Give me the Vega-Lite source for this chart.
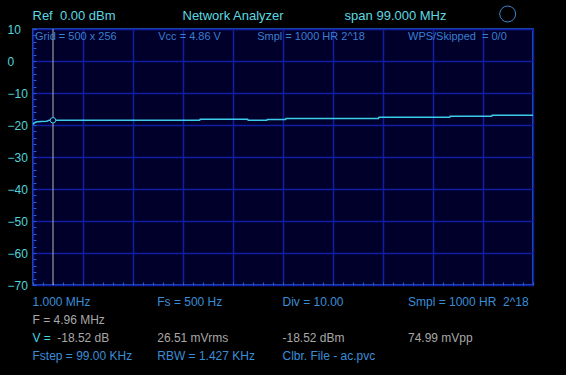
{
  "$schema": "https://vega.github.io/schema/vega-lite/v6.json",
  "width": 500,
  "height": 256,
  "autosize": {"type": "none"},
  "padding": {"left": 33, "top": 29, "right": 33, "bottom": 90},
  "background": "#000000",
  "config": {
    "view": {"fill": "#00002a", "stroke": "#2a66dc", "strokeWidth": 1.6},
    "font": "Liberation Sans"
  },
  "datasets": {
    "trace": [
      {"freq": 1.0, "level": -19.8},
      {"freq": 1.3, "level": -19.3},
      {"freq": 1.8, "level": -19.0},
      {"freq": 2.6, "level": -18.9},
      {"freq": 3.7, "level": -18.8},
      {"freq": 4.2, "level": -18.55},
      {"freq": 4.96, "level": -18.52},
      {"freq": 34.0, "level": -18.52},
      {"freq": 34.1, "level": -18.2},
      {"freq": 43.5, "level": -18.2},
      {"freq": 43.6, "level": -18.48},
      {"freq": 47.3, "level": -18.48},
      {"freq": 47.4, "level": -18.28},
      {"freq": 51.0, "level": -18.28},
      {"freq": 51.1, "level": -17.97},
      {"freq": 69.4, "level": -17.97},
      {"freq": 69.5, "level": -17.6},
      {"freq": 83.5, "level": -17.6},
      {"freq": 83.6, "level": -17.28},
      {"freq": 91.8, "level": -17.28},
      {"freq": 91.9, "level": -16.97},
      {"freq": 100, "level": -16.97}
    ],
    "cursor": [{"freq": 4.96, "level": -18.52}],
    "badge": [{"freq": 94.99, "level": 14.69}],
    "labels": [
      {"text": "Ref\u00a0 0.00 dBm", "freq": 0.9, "level": 14.06, "kind": "header"},
      {"text": "Network Analyzer", "freq": 30.6, "level": 14.06, "kind": "header"},
      {"text": "span 99.000 MHz", "freq": 62.7, "level": 14.06, "kind": "header"},
      {"text": "Grid = 500 x 256", "freq": 1.4, "level": 7.5, "kind": "inner"},
      {"text": "Vcc = 4.86 V", "freq": 25.8, "level": 7.5, "kind": "inner"},
      {"text": "Smpl = 1000 HR 2^18", "freq": 45.4, "level": 7.5, "kind": "inner"},
      {"text": "WPS/Skipped\u00a0 = 0/0", "freq": 75.25, "level": 7.5, "kind": "inner"},
      {"text": "1.000 MHz", "freq": 0.9, "level": -75.31, "kind": "blue"},
      {"text": "Fs = 500 Hz", "freq": 25.6, "level": -75.31, "kind": "blue"},
      {"text": "Div = 10.00", "freq": 50.4, "level": -75.31, "kind": "blue"},
      {"text": "Smpl = 1000 HR\u00a0 2^18", "freq": 75.25, "level": -75.31, "kind": "blue"},
      {"text": "F = 4.96 MHz", "freq": 0.9, "level": -80.94, "kind": "gray"},
      {"text": "V =", "freq": 0.9, "level": -86.56, "kind": "cyan"},
      {"text": "-18.52 dB", "freq": 5.8, "level": -86.56, "kind": "gray"},
      {"text": "26.51 mVrms", "freq": 25.6, "level": -86.56, "kind": "gray"},
      {"text": "-18.52 dBm", "freq": 50.4, "level": -86.56, "kind": "gray"},
      {"text": "74.99 mVpp", "freq": 75.25, "level": -86.56, "kind": "gray"},
      {"text": "Fstep = 99.00 KHz", "freq": 0.9, "level": -92.19, "kind": "blue"},
      {"text": "RBW = 1.427 KHz", "freq": 25.6, "level": -92.19, "kind": "blue"},
      {"text": "Clbr. File - ac.pvc", "freq": 50.4, "level": -92.19, "kind": "blue"}
    ]
  },
  "layer": [
    {
      "data": {"name": "trace"},
      "mark": {"type": "line", "color": "#3ccbe8", "strokeWidth": 1.5},
      "encoding": {
        "x": {
          "field": "freq", "type": "quantitative",
          "scale": {"domain": [1, 100], "nice": false, "zero": false},
          "axis": {
            "values": [1, 10.9, 20.8, 30.7, 40.6, 50.5, 60.4, 70.3, 80.2, 90.1, 100],
            "labels": false, "ticks": false, "domain": false, "title": null,
            "grid": true, "gridColor": "#101ea4", "gridWidth": 1.5, "gridOpacity": 1
          }
        },
        "y": {
          "field": "level", "type": "quantitative",
          "scale": {"domain": [-70, 10], "nice": false, "zero": false},
          "axis": {
            "values": [-70, -60, -50, -40, -30, -20, -10, 0, 10],
            "labelAlign": "left", "labelPadding": 26, "labelBaseline": "middle",
            "labelColor": "#50d4dc", "labelFontSize": 12, "labelFont": "Liberation Sans",
            "ticks": false, "domain": false, "title": null,
            "grid": true, "gridColor": "#101ea4", "gridWidth": 1.5, "gridOpacity": 1
          }
        }
      }
    },
    {
      "data": {"name": "cursor"},
      "mark": {"type": "rule", "color": "#b4b4b4", "strokeWidth": 1},
      "encoding": {
        "x": {
          "field": "freq", "type": "quantitative",
          "scale": {"domain": [1, 100], "nice": false, "zero": false},
          "axis": {
            "orient": "bottom",
            "values": [1, 2.98, 4.96, 6.94, 8.92, 10.9, 12.88, 14.86, 16.84, 18.82, 20.8, 22.78, 24.76, 26.74, 28.72, 30.7, 32.68, 34.66, 36.64, 38.62, 40.6, 42.58, 44.56, 46.54, 48.52, 50.5, 52.48, 54.46, 56.44, 58.42, 60.4, 62.38, 64.36, 66.34, 68.32, 70.3, 72.28, 74.26, 76.24, 78.22, 80.2, 82.18, 84.16, 86.14, 88.12, 90.1, 92.08, 94.06, 96.04, 98.02, 100],
            "labels": false, "grid": false, "domain": false, "title": null,
            "ticks": true, "tickSize": -3, "tickColor": "#2a5ad0", "tickWidth": 1
          }
        }
      }
    },
    {
      "data": {"name": "cursor"},
      "mark": {"type": "point", "shape": "circle", "filled": false, "fill": "#00002a", "fillOpacity": 1, "stroke": "#3ccbe8", "strokeWidth": 1, "size": 30, "opacity": 1},
      "encoding": {
        "x": {
          "field": "freq", "type": "quantitative",
          "scale": {"domain": [1, 100], "nice": false, "zero": false},
          "axis": null
        },
        "y": {
          "field": "level", "type": "quantitative",
          "scale": {"domain": [-70, 10], "nice": false, "zero": false},
          "axis": {
            "orient": "left",
            "values": [-70, -68, -66, -64, -62, -60, -58, -56, -54, -52, -50, -48, -46, -44, -42, -40, -38, -36, -34, -32, -30, -28, -26, -24, -22, -20, -18, -16, -14, -12, -10, -8, -6, -4, -2, 0, 2, 4, 6, 8, 10],
            "labels": false, "grid": false, "domain": false, "title": null,
            "ticks": true, "tickSize": -3, "tickColor": "#2a5ad0", "tickWidth": 1
          }
        }
      }
    },
    {
      "data": {"name": "badge"},
      "mark": {"type": "point", "shape": "circle", "filled": false, "stroke": "#3a86cc", "strokeWidth": 1, "size": 254, "opacity": 1, "clip": false},
      "encoding": {
        "x": {"field": "freq", "type": "quantitative", "scale": {"domain": [1, 100], "nice": false, "zero": false}, "axis": null},
        "y": {"field": "level", "type": "quantitative", "scale": {"domain": [-70, 10], "nice": false, "zero": false}, "axis": null}
      }
    },
    {
      "data": {"name": "labels"},
      "transform": [{"filter": "datum.kind === 'header'"}],
      "mark": {"type": "text", "align": "left", "baseline": "middle", "fontSize": 13, "font": "Liberation Sans"},
      "encoding": {
        "x": {"field": "freq", "type": "quantitative", "scale": {"domain": [1, 100], "nice": false, "zero": false}, "axis": null},
        "y": {"field": "level", "type": "quantitative", "scale": {"domain": [-70, 10], "nice": false, "zero": false}, "axis": null},
        "text": {"field": "text"},
        "color": {"field": "kind", "type": "nominal", "scale": {"domain": ["header", "inner", "blue", "gray", "cyan"], "range": ["#5ed8e0", "#3a7fd0", "#3a8ed8", "#a8a8a8", "#44d8e0"]}, "legend": null}
      }
    },
    {
      "data": {"name": "labels"},
      "transform": [{"filter": "datum.kind === 'inner'"}],
      "mark": {"type": "text", "align": "left", "baseline": "middle", "fontSize": 11, "font": "Liberation Sans"},
      "encoding": {
        "x": {"field": "freq", "type": "quantitative", "scale": {"domain": [1, 100], "nice": false, "zero": false}, "axis": null},
        "y": {"field": "level", "type": "quantitative", "scale": {"domain": [-70, 10], "nice": false, "zero": false}, "axis": null},
        "text": {"field": "text"},
        "color": {"field": "kind", "type": "nominal", "scale": {"domain": ["header", "inner", "blue", "gray", "cyan"], "range": ["#5ed8e0", "#3a7fd0", "#3a8ed8", "#a8a8a8", "#44d8e0"]}, "legend": null}
      }
    },
    {
      "data": {"name": "labels"},
      "transform": [{"filter": "datum.kind === 'blue' || datum.kind === 'gray' || datum.kind === 'cyan'"}],
      "mark": {"type": "text", "align": "left", "baseline": "middle", "fontSize": 12, "font": "Liberation Sans"},
      "encoding": {
        "x": {"field": "freq", "type": "quantitative", "scale": {"domain": [1, 100], "nice": false, "zero": false}, "axis": null},
        "y": {"field": "level", "type": "quantitative", "scale": {"domain": [-70, 10], "nice": false, "zero": false}, "axis": null},
        "text": {"field": "text"},
        "color": {"field": "kind", "type": "nominal", "scale": {"domain": ["header", "inner", "blue", "gray", "cyan"], "range": ["#5ed8e0", "#3a7fd0", "#3a8ed8", "#a8a8a8", "#44d8e0"]}, "legend": null}
      }
    }
  ],
  "resolve": {"axis": {"x": "independent", "y": "independent"}}
}
